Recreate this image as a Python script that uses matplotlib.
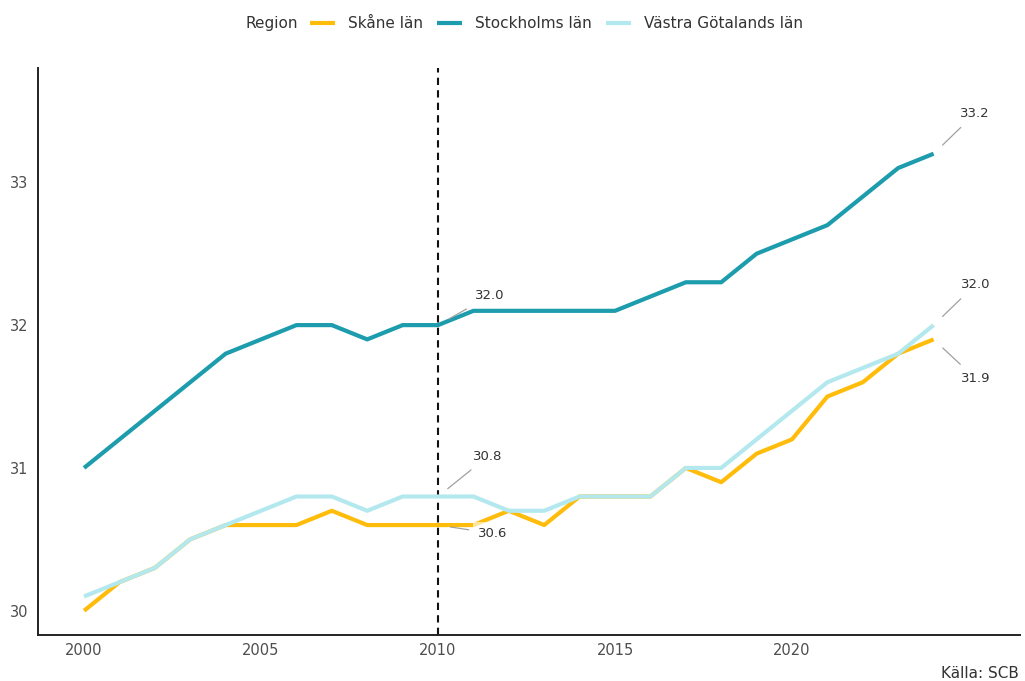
#!/usr/bin/env python3
from matplotlib import pyplot as plt
from matplotlib.lines import Line2D
import numpy as np

# Data
years = np.arange(2000, 2025)

skane = [30.0, 30.2, 30.3, 30.5, 30.6, 30.6, 30.6, 30.7, 30.6, 30.6,
         30.6, 30.6, 30.7, 30.6, 30.8, 30.8, 30.8, 31.0, 30.9, 31.1,
         31.2, 31.5, 31.6, 31.8, 31.9]
stockholm = [31.0, 31.2, 31.4, 31.6, 31.8, 31.9, 32.0, 32.0, 31.9, 32.0,
             32.0, 32.1, 32.1, 32.1, 32.1, 32.1, 32.2, 32.3, 32.3, 32.5,
             32.6, 32.7, 32.9, 33.1, 33.2]
vastra = [30.1, 30.2, 30.3, 30.5, 30.6, 30.7, 30.8, 30.8, 30.7, 30.8,
          30.8, 30.8, 30.7, 30.7, 30.8, 30.8, 30.8, 31.0, 31.0, 31.2,
          31.4, 31.6, 31.7, 31.8, 32.0]

series_names = ['Skåne län', 'Stockholms län', 'Västra Götalands län']
series_values = [skane, stockholm, vastra]
colors = ['#FFBC0A', '#1C9CAD', '#B3E9EE']

x_ticks = [2000, 2005, 2010, 2015, 2020]
y_ticks = [30, 31, 32, 33]
ref_year = 2010

# (series index, year, text offset in points)
labels = [
    (1, 2010, (37, 21)),
    (2, 2010, (36, 29)),
    (0, 2010, (39, -6)),
    (1, 2024, (30, 29)),
    (2, 2024, (30, 29)),
    (0, 2024, (30, -28)),
]

fig = plt.figure(figsize=(10.25, 6.81), dpi=100)
ax = fig.add_axes([0.0371, 0.0675, 0.9580, 0.8326])

for name, vals, col in zip(series_names, series_values, colors):
    ax.plot(years, vals, color=col, lw=3.0, solid_capstyle='butt', label=name)

ax.axvline(ref_year, color='#111111', lw=1.5, linestyle=(0, (3.5, 2.5)), zorder=1)

for idx, yr, off in labels:
    val = series_values[idx][list(years).index(yr)]
    ax.annotate(f'{val:.1f}', xy=(yr, val), xytext=off, textcoords='offset points',
                ha='center', va='center', fontsize=9.5, color='#333333',
                bbox=dict(boxstyle='square,pad=0.35', fc='white', ec='none', alpha=0.6),
                arrowprops=dict(arrowstyle='-', color='#a0a0a0', lw=0.9,
                                shrinkA=3, shrinkB=9))

ax.set_xlim(1998.7, 2026.44)
ax.set_ylim(29.83, 33.80)
ax.set_xticks(x_ticks)
ax.set_yticks(y_ticks)
ax.tick_params(length=0, labelsize=10.5, labelcolor='#4d4d4d')
ax.tick_params(axis='x', pad=6)
ax.tick_params(axis='y', pad=7)
for side in ['top', 'right']:
    ax.spines[side].set_visible(False)
for side in ['left', 'bottom']:
    ax.spines[side].set_color('#222222')
    ax.spines[side].set_linewidth(1.4)

# legend with inline "Region" title
handles = [Line2D([], [], color=c, lw=3, solid_capstyle='butt') for c in colors]
fig.text(298 / 1025, 0.965, 'Region', ha='right', va='center', fontsize=11, color='#333333')
leg = fig.legend(handles, series_names, loc='center left', bbox_to_anchor=(310 / 1025, 0.965),
                 ncol=3, frameon=False, fontsize=11, handlelength=1.65, handletextpad=0.85,
                 columnspacing=0.9, borderpad=0, borderaxespad=0)
for t in leg.get_texts():
    t.set_color('#333333')

fig.text(0.994, 1 - 673 / 681, 'Källa: SCB', ha='right', va='center', fontsize=11, color='#333333')

fig.savefig('out.png', dpi=100)
